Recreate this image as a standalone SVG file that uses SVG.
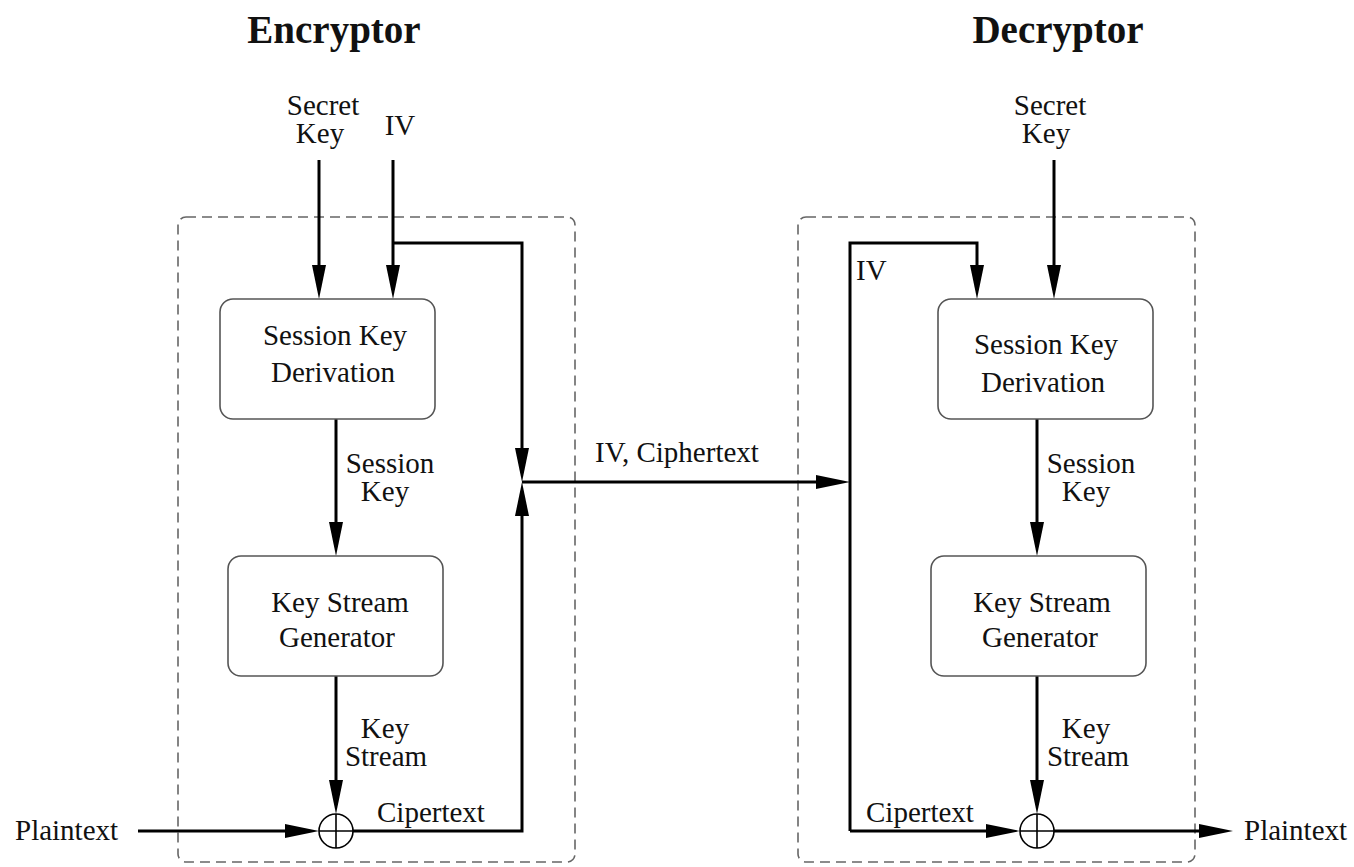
<svg xmlns="http://www.w3.org/2000/svg" width="1354" height="867" viewBox="0 0 1354 867">
<defs>
<marker id="arr" markerUnits="userSpaceOnUse" markerWidth="34" markerHeight="14" refX="24" refY="7" orient="auto" viewBox="0 0 34 14">
<path d="M0,0 L34,7 L0,14 z" fill="#000"/>
</marker>
</defs>
<style>
text{font-family:"Liberation Serif","Times New Roman",serif;font-size:29px;fill:#111;text-anchor:middle}
.h{font-size:39px;font-weight:bold}
.l{text-anchor:start}
.dash{fill:none;stroke:#666;stroke-width:1.6;stroke-dasharray:10 6}
.box{fill:#fff;stroke:#555;stroke-width:1.6}
.c{fill:none;stroke:#000;stroke-width:3}
.x{fill:none;stroke:#000;stroke-width:1.6}
</style>
<rect width="1354" height="867" fill="#fff"/>
<g id="encryptor-frame">
<rect class="dash" x="178" y="217" width="397" height="645" rx="8"/>
<text class="h" x="334" y="43">Encryptor</text>
</g>
<g id="decryptor-frame">
<rect class="dash" x="798" y="217" width="397" height="645" rx="8"/>
<text class="h" x="1058" y="43">Decryptor</text>
</g>
<g id="connectors">
<path class="c" d="M319,160 V289" marker-end="url(#arr)"/>
<path class="c" d="M393,160 V289" marker-end="url(#arr)"/>
<path class="c" d="M393,243 H522 V472" marker-end="url(#arr)"/>
<path class="c" d="M336,419 V546" marker-end="url(#arr)"/>
<path class="c" d="M336,676 V804" marker-end="url(#arr)"/>
<path class="c" d="M138,831 H309" marker-end="url(#arr)"/>
<path class="c" d="M353,831 H522 V492" marker-end="url(#arr)"/>
<path class="c" d="M522,482 H840" marker-end="url(#arr)"/>
<path class="c" d="M850,831 V243 H977 V289" marker-end="url(#arr)"/>
<path class="c" d="M850,831 H1010" marker-end="url(#arr)"/>
<path class="c" d="M1054,160 V289" marker-end="url(#arr)"/>
<path class="c" d="M1037,419 V546" marker-end="url(#arr)"/>
<path class="c" d="M1037,676 V804" marker-end="url(#arr)"/>
<path class="c" d="M1054,831 H1223" marker-end="url(#arr)"/>
</g>
<g id="enc-inputs">
<text x="323" y="115">Secret<tspan x="320" dy="28">Key</tspan></text>
<text x="400" y="135">IV</text>
</g>
<g id="enc-skd">
<rect class="box" x="220" y="299" width="215" height="120" rx="13"/>
<text x="335" y="345">Session Key<tspan x="333" dy="37">Derivation</tspan></text>
</g>
<g id="enc-sessionkey-label">
<text x="390" y="473">Session<tspan x="385" dy="28">Key</tspan></text>
</g>
<g id="enc-ksg">
<rect class="box" x="228" y="556" width="215" height="120" rx="13"/>
<text x="340" y="612">Key Stream<tspan x="337" dy="35">Generator</tspan></text>
</g>
<g id="enc-keystream-label">
<text x="385" y="738">Key<tspan x="386" dy="28">Stream</tspan></text>
</g>
<g id="enc-xor">
<circle class="x" cx="336" cy="831" r="17"/>
<path class="x" d="M319,831 H353 M336,814 V848"/>
</g>
<g id="enc-labels">
<text class="l" x="15" y="840">Plaintext</text>
<text class="l" x="377" y="822">Cipertext</text>
<text x="677" y="462">IV, Ciphertext</text>
</g>
<g id="dec-inputs">
<text x="1050" y="115">Secret<tspan x="1046" dy="28">Key</tspan></text>
<text class="l" x="856" y="280">IV</text>
</g>
<g id="dec-skd">
<rect class="box" x="938" y="299" width="215" height="120" rx="13"/>
<text x="1046" y="354">Session Key<tspan x="1043" dy="38">Derivation</tspan></text>
</g>
<g id="dec-sessionkey-label">
<text x="1091" y="473">Session<tspan x="1086" dy="28">Key</tspan></text>
</g>
<g id="dec-ksg">
<rect class="box" x="931" y="556" width="215" height="120" rx="13"/>
<text x="1042" y="612">Key Stream<tspan x="1040" dy="35">Generator</tspan></text>
</g>
<g id="dec-keystream-label">
<text x="1086" y="738">Key<tspan x="1088" dy="28">Stream</tspan></text>
</g>
<g id="dec-xor">
<circle class="x" cx="1037" cy="831" r="17"/>
<path class="x" d="M1020,831 H1054 M1037,814 V848"/>
</g>
<g id="dec-labels">
<text class="l" x="866" y="822">Cipertext</text>
<text class="l" x="1244" y="840">Plaintext</text>
</g>
</svg>
